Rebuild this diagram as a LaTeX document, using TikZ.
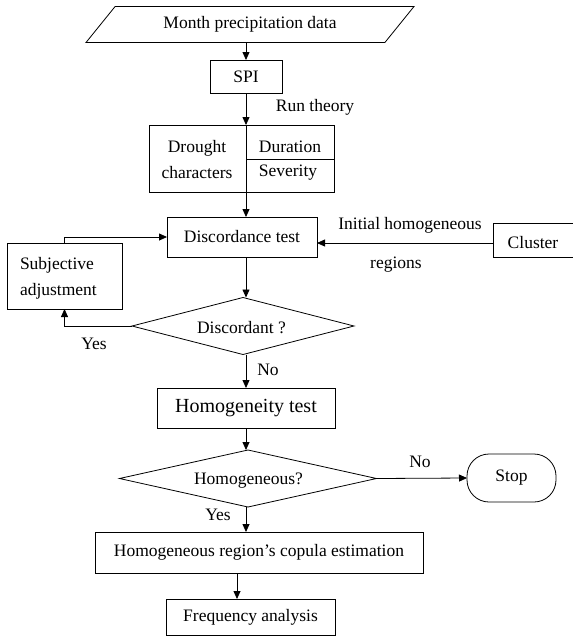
\documentclass[tikz,border=0pt]{standalone}
\usepackage{fontspec}
\setmainfont{Liberation Serif}
\usetikzlibrary{shapes.geometric,arrows.meta}
\begin{document}
\begin{tikzpicture}[x=1pt,y=-1pt,
  font=\fontsize{17.5}{26}\selectfont,
  every node/.style={inner sep=0pt, outer sep=0pt},
  box/.style={draw, line width=0.8pt, rectangle},
  arr/.style={line width=0.8pt, -{Triangle[length=8pt,width=7pt]}},
  ln/.style={line width=0.8pt},
  dia/.style={draw, line width=0.8pt, diamond},
  lbl/.style={},
]
\useasboundingbox (0,0) rectangle (573,638);

% nodes
\node[draw, line width=0.8pt, trapezium, trapezium left angle=28.6, trapezium right angle=151.4,
      trapezium stretches body=true, minimum width=328pt, minimum height=36pt] (data) at (250,24.5) {Month precipitation data};
\node[box, minimum width=72pt, minimum height=33pt] (spi) at (246,76.5) {SPI};
\node[lbl] (run) at (315,107) {Run theory};
\node[box, minimum width=185pt, minimum height=67pt] (dc) at (241.5,158.5) {};
\node[align=center] (dr) at (197,160) {Drought\\characters};
\node (du) at (290,147) {Duration};
\node (se) at (288,173) {Severity};
\node[box, minimum width=150pt, minimum height=40pt] (disc) at (242,237) {Discordance test};
\node[box, minimum width=83pt, minimum height=34pt] (cl) at (534.5,240) {};
\node (clt) at (533,243) {Cluster};
\node (ihr1) at (410,225) {Initial homogeneous};
\node (ihr2) at (396,265) {regions};
\node[box, minimum width=115pt, minimum height=66pt] (subj) at (64.5,276) {};
\node[align=left, anchor=west] (subjt) at (20,278) {Subjective\\adjustment};
\node[dia, aspect=3.9, minimum width=222pt, minimum height=57pt] (dd) at (243,326) {};
\node (ddt) at (241.5,328) {Discordant ?};
\node (yes1) at (94,344) {Yes};
\node (no1) at (268,370) {No};
\node[box, minimum width=178pt, minimum height=40pt, font=\fontsize{20}{24}\selectfont] (ht) at (246,408) {Homogeneity test};
\node[dia, aspect=4.5, minimum width=257pt, minimum height=57pt] (hd) at (248,478.5) {};
\node (hdt) at (248.5,481) {Homogeneous?};
\node[draw, line width=0.8pt, rounded corners=22pt, minimum width=89pt, minimum height=48pt] (stop) at (511.5,478) {Stop};
\node (no2) at (420,462) {No};
\node (yes2) at (218,515) {Yes};
\node[box, minimum width=328pt, minimum height=41pt] (cop) at (259,552.5) {Homogeneous region’s copula estimation};
\node[box, minimum width=169pt, minimum height=36pt] (fr) at (250.5,617) {Frequency analysis};

% internal lines of drought box
\draw[ln] (dc.north -| spi) -- (dc.south -| spi);
\draw[ln] (dc.east |- 0,159) -- (spi |- 0,159);

% connectors
\draw[arr] (data.south -| spi) -- (spi.north);
\draw[arr] (spi.south) -- (spi |- dc.north);
\draw[arr] (spi |- dc.south) -- (spi |- disc.north);
\draw[arr] ([yshift=-3pt]cl.west) -- ([yshift=-3pt]cl.west -| disc.east);
\draw[arr] (subj.north) |- (disc.west);
\draw[arr] (dd.west) -| (subj.south);
\draw[arr] (disc.south -| spi) -- (spi |- dd.north);
\draw[arr] (dd.south -| spi) -- (spi |- ht.north);
\draw[arr] (ht.south) -- (ht.south |- hd.north);
\draw[arr] (hd.east) -- (stop.west);
\draw[arr] (hd.south -| ht.south) -- (ht.south |- cop.north);
\draw[arr] (cop.south -| 237,0) -- (fr.north -| 237,0);
\end{tikzpicture}
\end{document}
